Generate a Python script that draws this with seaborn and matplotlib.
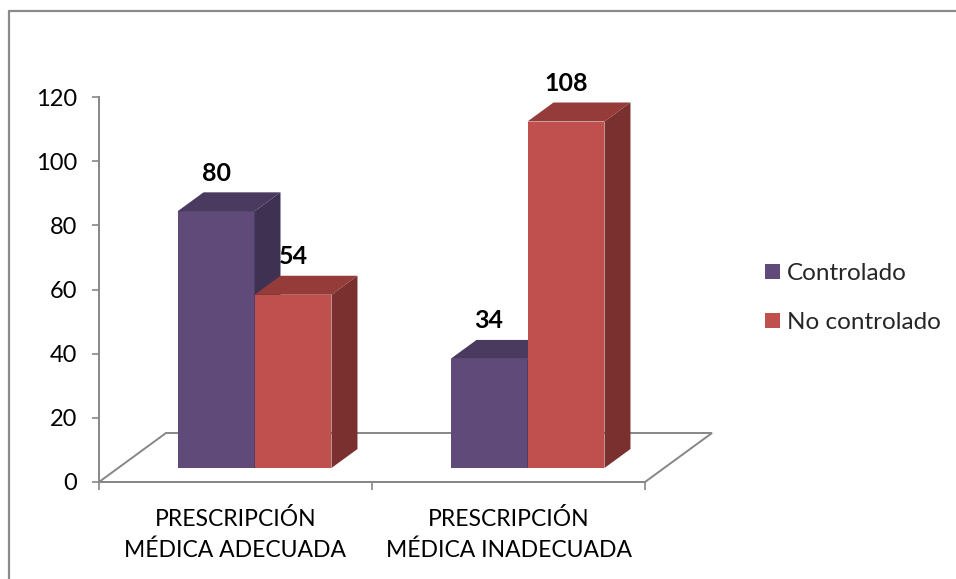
import matplotlib
matplotlib.use("Agg")
import matplotlib.pyplot as plt
import numpy as np
import pandas as pd
import seaborn as sns
from matplotlib.patches import Polygon, Patch
from matplotlib.lines import Line2D

# --- data -------------------------------------------------------------
categories = ["PRESCRIPCIÓN\nMÉDICA ADECUADA", "PRESCRIPCIÓN\nMÉDICA INADECUADA"]
series = ["Controlado", "No controlado"]
controlado = [80, 34]
no_controlado = [54, 108]
yticks = [0, 20, 40, 60, 80, 100, 120]

# --- styling ----------------------------------------------------------
front_col = {"Controlado": "#5F4A7A", "No controlado": "#C0504D"}
top_col = {"Controlado": "#4A3A5F", "No controlado": "#953C3A"}
side_col = {"Controlado": "#3F3152", "No controlado": "#7A302E"}
axis_grey = "#878787"

sns.set_theme(style="white")
plt.rcParams["font.family"] = ["Lato", "DejaVu Sans"]

df = pd.DataFrame({
    "categoria": categories * 2,
    "grupo": [series[0]] * len(categories) + [series[1]] * len(categories),
    "valor": controlado + no_controlado,
})

W, H, DPI = 956, 579, 100
fig = plt.figure(figsize=(W / DPI, H / DPI), dpi=DPI)
fig.patch.set_facecolor("white")
ax = fig.add_axes([99 / W, (H - 482) / H, (645 - 99) / W, (482 - 97) / H])

sns.barplot(data=df, x="categoria", y="valor", hue="grupo",
            palette=front_col, hue_order=series, order=categories,
            width=0.564, saturation=1, ax=ax, legend=False)

ax.set_xlim(-0.5, len(categories) - 0.5)
ax.set_ylim(0, 120)
ax.set_yticks(yticks)
ax.set_xlabel("")
ax.set_ylabel("")


def px_to_data(dx_px, dy_px):
    inv = ax.transData.inverted()
    p0 = inv.transform((0, 0))
    p1 = inv.transform((dx_px, dy_px))
    return p1 - p0


# pseudo-3D offsets (bar placement inside the floor and bar depth)
fx, fy = px_to_data(19, 14)
dx, dy = px_to_data(26, 19)
floor_dx, floor_dy = px_to_data(67, 49)

# floor parallelogram
x0, x1 = ax.get_xlim()
floor = Polygon([(x0, 0), (x1, 0), (x1 + floor_dx, floor_dy), (x0 + floor_dx, floor_dy)],
                closed=True, fill=False, edgecolor=axis_grey, lw=1.4,
                clip_on=False, zorder=1)
ax.add_patch(floor)

# collect bars in drawing order: per category, series left to right
bars = []
for s_idx, container in enumerate(ax.containers):
    for c_idx, rect in enumerate(container.patches):
        bars.append((c_idx, s_idx, rect))
bars.sort(key=lambda t: (t[0], t[1]))

z = 3
for c_idx, s_idx, rect in bars:
    name = series[s_idx]
    value = rect.get_height()
    xl = rect.get_x() + fx
    w = rect.get_width()
    yb = fy
    yt = fy + value
    rect.set_x(xl)
    rect.set_y(yb)
    rect.set_zorder(z)
    rect.set_edgecolor("none")
    rect.set_clip_on(False)
    top = Polygon([(xl, yt), (xl + w, yt), (xl + w + dx, yt + dy), (xl + dx, yt + dy)],
                  closed=True, facecolor=top_col[name], edgecolor="none",
                  zorder=z, clip_on=False)
    side = Polygon([(xl + w, yb), (xl + w + dx, yb + dy), (xl + w + dx, yt + dy), (xl + w, yt)],
                   closed=True, facecolor=side_col[name], edgecolor="none",
                   zorder=z, clip_on=False)
    ax.add_patch(top)
    ax.add_patch(side)
    ax.annotate(f"{int(round(value))}", xy=(xl + w / 2, yt + dy),
                xytext=(0, 5.5), textcoords="offset points",
                ha="center", va="bottom", fontsize=18, fontweight="bold",
                color="black", annotation_clip=False, zorder=z + 1)
    z += 1

# axes
for s in ("top", "right"):
    ax.spines[s].set_visible(False)
for s in ("left", "bottom"):
    ax.spines[s].set_color(axis_grey)
    ax.spines[s].set_linewidth(1.4)
    ax.spines[s].set_zorder(2)

ax.tick_params(axis="y", which="major", direction="out", length=5, width=1.2,
               color=axis_grey, pad=11, labelsize=17, labelcolor="black", left=True)
ax.tick_params(axis="x", which="major", length=0, pad=19, labelsize=16.5,
               labelcolor="black", bottom=True)
ax.set_xticks([i - 0.5 for i in range(len(categories) + 1)], minor=True)
ax.tick_params(axis="x", which="minor", direction="out", length=6, width=1.2,
               color=axis_grey, bottom=True)
for lbl in ax.get_xticklabels():
    lbl.set_linespacing(1.5)

# legend
handles = [Patch(facecolor=front_col[s], edgecolor="none") for s in series]
fig.legend(handles, series, loc="center left",
           bbox_to_anchor=(765 / W, 1 - 298 / H), bbox_transform=fig.transFigure,
           frameon=False, fontsize=17.5, handlelength=0.62, handleheight=0.62,
           handletextpad=0.3, labelspacing=1.15, borderpad=0, borderaxespad=0)

# chart-area border
fig.add_artist(Line2D([9 / W, 9 / W], [0, 1 - 10.5 / H], transform=fig.transFigure,
                      color="#8A8A8A", lw=1.6))
fig.add_artist(Line2D([9 / W, 1], [1 - 10.5 / H, 1 - 10.5 / H], transform=fig.transFigure,
                      color="#8A8A8A", lw=1.6))

fig.savefig("out.png", dpi=DPI)
